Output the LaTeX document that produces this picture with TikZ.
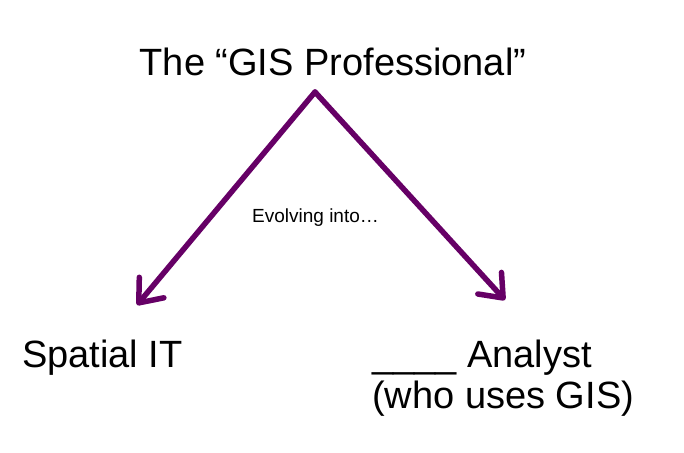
\documentclass[tikz,border=0pt]{standalone}
\usepackage{fontspec}
\setmainfont{Liberation Sans}
\usetikzlibrary{arrows.meta}
\definecolor{plum}{RGB}{102,0,102}

\begin{document}
\begin{tikzpicture}[x=1pt, y=-1pt,
    heading/.style={inner sep=0pt, anchor=base, font=\fontsize{38}{41}\selectfont},
    caption/.style={inner sep=0pt, anchor=base west, font=\fontsize{19}{22}\selectfont},
    branch/.style={plum, line width=5.5pt, line cap=round,
        -{Straight Barb[round, length=20pt, width=32pt]}}
]
    \useasboundingbox (0,0) rectangle (684,452);
    \coordinate (top) at (315,92);
    \coordinate (lefttip) at (137,305);
    \coordinate (righttip) at (505,300);
    \node[heading] (title) at (333,75) {The “GIS Professional”};
    \node[caption] (evolve) at (252,222) {Evolving into…};
    \node[heading, anchor=base west] (spatial) at (22,367) {Spatial IT};
    \node[heading, anchor=base west] (analyst) at (372,367) {\_\_\_\_ Analyst};
    \node[heading, anchor=base west] (uses) at (372,408) {(who uses GIS)};
    \draw[branch] (top) -- (lefttip);
    \draw[branch] (top) -- (righttip);
\end{tikzpicture}
\end{document}
